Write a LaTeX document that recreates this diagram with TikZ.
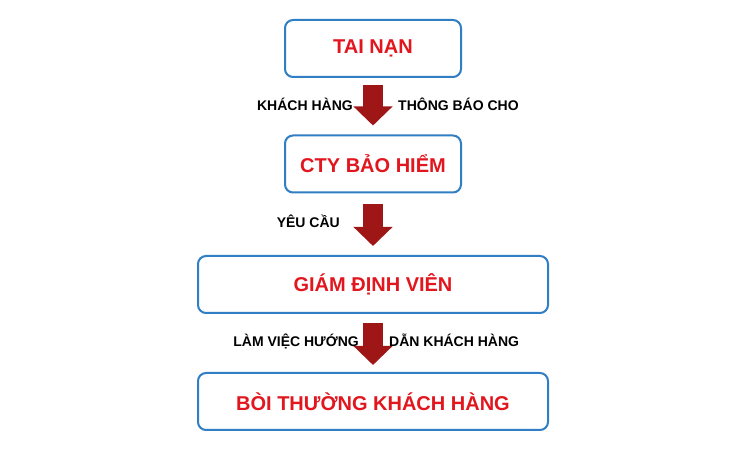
\documentclass[tikz,border=0pt]{standalone}
\usepackage{fontspec}
\setmainfont{Liberation Sans}
\usetikzlibrary{arrows.meta}
\definecolor{boxblue}{RGB}{48,126,196}
\definecolor{txtred}{RGB}{226,22,30}
\definecolor{arrred}{RGB}{158,22,22}
\tikzset{
  stepbox/.style={draw=boxblue, line width=2pt, rounded corners=8pt, fill=white,
    minimum height=57pt, inner sep=0pt, text=txtred,
    font=\bfseries\fontsize{20}{24}\selectfont},
  narrowbox/.style={stepbox, minimum width=176pt},
  widebox/.style={stepbox, minimum width=350pt},
  lbl/.style={inner sep=0pt, font=\bfseries\fontsize{14}{17}\selectfont, text=black},
  bigarrow/.style={draw=arrred, line width=20pt,
    -{Triangle[length=19pt, width=38pt, fill=arrred]}}
}
\begin{document}
\begin{tikzpicture}[x=1pt, y=-1pt]
\useasboundingbox (0,0) rectangle (748,462);
\node[narrowbox] (b1) at (373,48.5) {TAI NẠN};
\node[narrowbox] (b2) at (373,164) {CTY BẢO HIỂM};
\node[widebox] (b3) at (373,284.5) {GIÁM ĐỊNH VIÊN};
\node[widebox] (b4) at (373,401.5) {BÒI THƯỜNG KHÁCH HÀNG};
\draw[bigarrow] ([yshift=-7pt]b1.south) -- ([yshift=9pt]b2.north);
\draw[bigarrow] ([yshift=-11pt]b2.south) -- ([yshift=9pt]b3.north);
\draw[bigarrow] ([yshift=-9pt]b3.south) -- ([yshift=7pt]b4.north);
\node[lbl, anchor=base east] (l1) at (353,111) {KHÁCH HÀNG};
\node[lbl, anchor=base west] (l2) at (398,111) {THÔNG BÁO CHO};
\node[lbl, anchor=base east] (l3) at (340,228) {YÊU CẦU};
\node[lbl, anchor=base east] (l4) at (359,347) {LÀM VIỆC HƯỚNG};
\node[lbl, anchor=base west] (l5) at (389,347) {DẪN KHÁCH HÀNG};
\end{tikzpicture}
\end{document}
